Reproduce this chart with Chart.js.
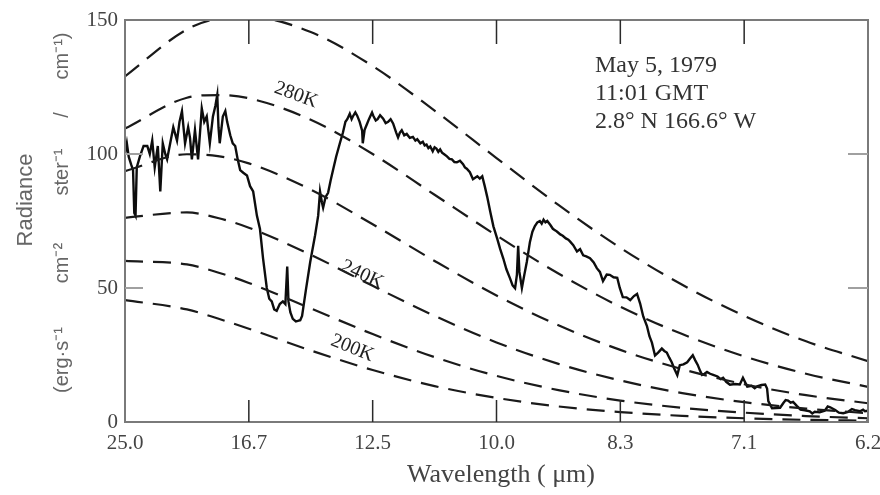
<!DOCTYPE html>
<html><head><meta charset="utf-8">
<script src="https://cdn.jsdelivr.net/npm/chart.js@4/dist/chart.umd.min.js"></script>
<style>html,body{margin:0;padding:0;background:#fff}#wrap{width:880px;height:495px;position:relative}</style>
</head><body><div id="wrap"><canvas id="c" width="880" height="495"></canvas></div>
<script>
// Wavenumber grid (cm^-1) of the reference blackbody curves
const planckNu = [400,500,550,600,700,800,900,1000,1100,1200,1300,1400,1500,1600];
const t300 = [129.0,146.5,150.5,151.2,145.5,132.8,116.2,98.5,81.0,65.0,51.2,39.6,30.1,22.7];
const t280 = [109.5,121.0,122.0,120.8,112.8,100.0,84.8,69.6,55.4,43.0,32.8,24.5,18.0,13.1];
const t260 = [93.6,99.9,99.2,96.5,86.7,73.8,60.1,47.2,36.1,26.9,19.7,14.1,10.0,7.0];
const t240 = [76.2,78.2,76.1,72.5,62.4,50.8,39.6,29.7,21.7,15.5,10.8,7.4,5.0,3.3];
const t220 = [60.1,58.8,55.8,51.9,42.4,32.8,24.2,17.2,11.9,8.0,5.3,3.5,2.2,1.4];
const t200 = [45.5,42.0,38.6,34.8,26.7,19.4,13.4,9.0,5.8,3.7,2.3,1.4,0.8,0.5];

// Measured spectrum (wavenumber cm^-1, radiance)
const specNu = [400,403,406,410,413,415,417,419,424,430,436,440,444,448,453,457,461,465,468,473,478,484,488,492,497,502,505,508,513,518,524,528,532,537,542,546,549,551,553,558,562,565,570,574,578,582,586,591,597,602,607,613,618,623,629,633,637,641,645,650,655,659,662,664,667,671,676,679,683,686,692,699,707,712,715,718,720,724,728,732,736,741,747,752,756,759,763,766,768,772,775,779,783,784,787,791,794,796,799,801,805,808,812,817,821,825,829,833,838,841,844,847,851,855,860,865,869,872,877,881,884,887,890,893,897,900,903,906,909,912,915,920,924,928,932,936,941,946,949,952,957,962,969,973,977,981,985,990,995,1001,1006,1011,1016,1022,1026,1030,1033,1035,1037,1041,1045,1049,1054,1058,1062,1066,1070,1073,1076,1079,1082,1087,1091,1095,1098,1103,1107,1112,1116,1119,1124,1130,1135,1140,1145,1151,1157,1162,1167,1172,1178,1183,1189,1195,1199,1204,1210,1216,1222,1227,1232,1237,1243,1247,1251,1256,1261,1267,1271,1275,1279,1283,1287,1292,1296,1302,1308,1312,1317,1321,1325,1329,1332,1336,1340,1345,1350,1357,1362,1366,1371,1377,1385,1393,1398,1405,1412,1417,1421,1428,1434,1437,1439,1445,1452,1458,1463,1467,1471,1475,1479,1485,1491,1498,1506,1510,1514,1522,1530,1535,1539,1547,1553,1560,1568,1574,1579,1587,1592,1595,1600];
const specRad = [100,104,99,96,94,78,77,95,99,103,103,100,105,95,103,86,104,100,98,104,110,105,112,116,104,110,106,98,109,98,117,112,114,104,114,118,122,110,104,114,116,112,107,104,103,98,94,93,92,88,86,77,72,61,50,46,45,42,41.5,44,45,44,58,45,41,38.5,37.5,37.7,38,39.6,49,59.5,69.7,77,86,82,80,84,85.5,90,94,99,104,108,112,113,115,113,114,115.5,114.3,112,108.7,104,109,111.3,113,114,115.5,114.3,112.5,113,114.5,113.2,111.5,112,113,111.4,108,106.2,108,108.9,107,107.5,106,106.4,105,105.5,104,104.6,103.2,103.5,102.2,102.8,101,102.5,102,100.8,101.7,100.5,100,99.1,98.2,98,97,96.9,97.5,96.2,95,94.5,93.2,90.6,91.7,90.8,91.7,88,84,78.4,73,68.5,64.5,61,57,53.5,51,49.9,55,65.7,56,50,55,59.8,67.2,71,73.1,74.5,75,74,75.5,74.5,75,73.5,72.1,71.5,71,70,69.5,68.5,68,67.3,66,63.6,64.5,62.2,61.8,61.1,59.5,57.4,56,52.6,55,54.9,54,53.8,50.1,46.6,46.5,45.5,47,47.8,44.2,39.4,35.8,32,29.6,24.8,25.9,27.4,26.5,25.9,24,22.3,20,17.5,21.2,21.5,22.3,23.5,24.9,23,21.3,19,17.6,18,18.7,18,17.6,17,16,16.5,15,13.9,14.2,14,16.5,13.2,13.5,12.6,13.3,13.8,14,12.5,7.8,5.1,5.2,5.3,7,8.2,8,7.2,7.5,6,4.6,4.4,4,3.2,3.8,3.6,4.2,5.8,5.5,4.5,3.5,3.3,3.8,4.8,4.4,4,4.6,4,4.2];

const xTickValues = [400,600,800,1000,1200,1400,1600];
const xTickLabels = ['25.0','16.7','12.5','10.0','8.3','7.1','6.2'];
const yTickValues = [0,50,100,150];

const curveLabels = [
  {text:'280K', nu:676, val:122, angle:20},
  {text:'240K', nu:783, val:55, angle:25},
  {text:'200K', nu:767, val:27.5, angle:22}
];
const noteLines = ['May 5, 1979','11:01 GMT','2.8° N 166.6° W'];

const pts = (xs, ys) => xs.map((v,i)=>({x:v, y:ys[i]}));
const dashed = (arr) => ({data: pts(planckNu, arr), borderColor:'#1a1a1a', borderWidth:2.2, borderDash:[18,10], pointRadius:0, cubicInterpolationMode:'monotone', fill:false});

const decor = {
  id:'decor',
  afterDatasetsDraw(chart){
    const {ctx, chartArea:a, scales:{x,y}} = chart;
    ctx.save();
    // frame
    ctx.strokeStyle = '#7a7a7a'; ctx.lineWidth = 2;
    ctx.strokeRect(a.left, a.top, a.right-a.left, a.bottom-a.top);
    // x ticks (inward, bottom and top)
    ctx.strokeStyle = '#2a2a2a'; ctx.lineWidth = 1.5;
    xTickValues.forEach(v=>{
      const px = x.getPixelForValue(v);
      if (px <= a.left+2 || px >= a.right-2) return;
      ctx.beginPath();
      ctx.moveTo(px, a.bottom); ctx.lineTo(px, a.bottom-22);
      ctx.moveTo(px, a.top); ctx.lineTo(px, a.top+24);
      ctx.stroke();
    });
    // y ticks (inward, left and right)
    ctx.strokeStyle = '#a0a0a0'; ctx.lineWidth = 2;
    yTickValues.forEach(v=>{
      const py = y.getPixelForValue(v);
      if (py <= a.top+2 || py >= a.bottom-2) return;
      ctx.beginPath();
      ctx.moveTo(a.left, py); ctx.lineTo(a.left+18, py);
      ctx.moveTo(a.right, py); ctx.lineTo(a.right-20, py);
      ctx.stroke();
    });
    // curve labels
    ctx.fillStyle = '#222';
    ctx.font = '20px "Liberation Serif", serif';
    ctx.textAlign = 'center'; ctx.textBaseline = 'middle';
    curveLabels.forEach(l=>{
      ctx.save();
      ctx.translate(x.getPixelForValue(l.nu), y.getPixelForValue(l.val));
      ctx.rotate(l.angle*Math.PI/180);
      ctx.fillText(l.text, 0, 0);
      ctx.restore();
    });
    // note
    ctx.font = '24px "Liberation Serif", serif';
    ctx.textAlign = 'left'; ctx.textBaseline = 'middle';
    ctx.fillStyle = '#333';
    noteLines.forEach((t,i)=> ctx.fillText(t, 595, 66 + i*28));
    // x title
    ctx.font = '26px "Liberation Serif", serif';
    ctx.textAlign = 'center';
    ctx.fillStyle = '#444';
    ctx.fillText('Wavelength ( μm)', 501, 475);
    // y title
    ctx.fillStyle = '#666';
    ctx.font = '22px "Liberation Sans", sans-serif';
    const vtext = (t, cx, cy) => { ctx.save(); ctx.translate(cx, cy); ctx.rotate(-Math.PI/2); ctx.fillText(t, 0, 0); ctx.restore(); };
    vtext('Radiance', 26, 200);
    ctx.font = '20px "Liberation Sans", sans-serif';
    vtext('(erg·s⁻¹', 62, 360);
    vtext('cm⁻²', 62, 263);
    vtext('ster⁻¹', 62, 172);
    vtext('/', 62, 115);
    vtext('cm⁻¹)', 62, 56);
    ctx.restore();
  }
};

new Chart(document.getElementById('c'), {
  type:'line',
  data:{datasets:[
    dashed(t300), dashed(t280), dashed(t260), dashed(t240), dashed(t220), dashed(t200),
    {data: pts(specNu, specRad), borderColor:'#0d0d0d', borderWidth:2.4, pointRadius:0, tension:0, fill:false}
  ]},
  options:{
    responsive:false, animation:false, devicePixelRatio:1,
    layout:{padding:{left:0, right:12, top:20, bottom:0}},
    plugins:{legend:{display:false}, tooltip:{enabled:false}},
    scales:{
      x:{type:'linear', min:400, max:1600,
        afterBuildTicks: s => { s.ticks = xTickValues.map(v=>({value:v})); },
        ticks:{autoSkip:false, maxRotation:0, padding:9, color:'#444',
          font:{family:'"Liberation Serif", serif', size:21},
          callback:(v)=> xTickLabels[xTickValues.indexOf(v)]},
        grid:{display:false, drawTicks:false}, border:{display:false},
        afterFit: s => { s.height = 73; s.paddingLeft = 0; s.paddingRight = 0; }
      },
      y:{min:0, max:150,
        afterBuildTicks: s => { s.ticks = yTickValues.map(v=>({value:v})); },
        ticks:{padding:7, color:'#444', font:{family:'"Liberation Serif", serif', size:21}},
        grid:{display:false, drawTicks:false}, border:{display:false},
        afterFit: s => { s.width = 125; s.paddingTop = 0; s.paddingBottom = 0; }
      }
    }
  },
  plugins:[decor]
});
</script></body></html>
